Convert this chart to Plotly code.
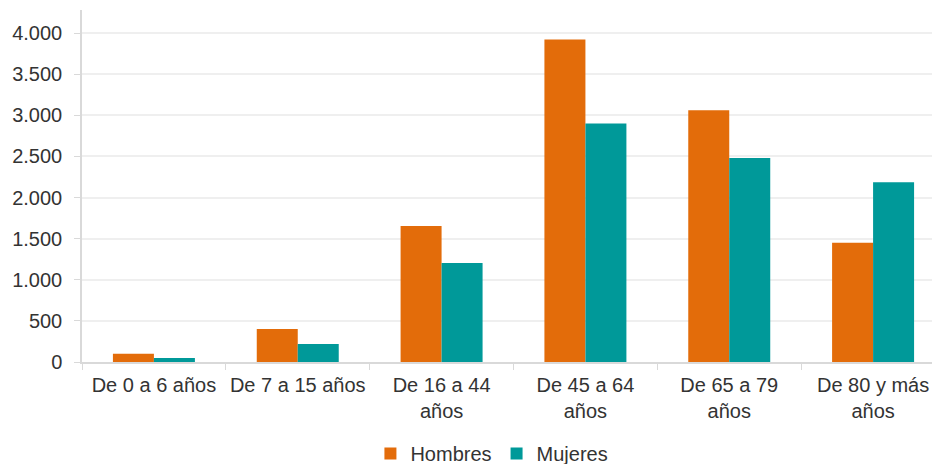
import plotly.graph_objects as go

categories = ["De 0 a 6 años", "De 7 a 15 años", "De 16 a 44<br>años",
              "De 45 a 64<br>años", "De 65 a 79<br>años", "De 80 y más<br>años"]
hombres = [100, 400, 1655, 3920, 3060, 1450]
mujeres = [50, 220, 1205, 2900, 2480, 2185]
y_ticks = [0, 500, 1000, 1500, 2000, 2500, 3000, 3500, 4000]

FONT = "Liberation Sans, Arial, sans-serif"
TXT = "#333333"
FS = 20

fig = go.Figure()
fig.add_trace(go.Bar(name="Hombres", x=categories, y=hombres,
                     marker=dict(color="#E36C0A", line=dict(width=0))))
fig.add_trace(go.Bar(name="Mujeres", x=categories, y=mujeres,
                     marker=dict(color="#009999", line=dict(width=0))))

fig.update_layout(
    width=940, height=464,
    margin=dict(l=74, r=3, t=2, b=110, autoexpand=False),
    paper_bgcolor="white", plot_bgcolor="white",
    barmode="group", bargap=0.43, bargroupgap=0,
    separators=",.",
    font=dict(family=FONT, size=FS, color=TXT),
    showlegend=True,
    legend=dict(orientation="h", x=0.475, xanchor="center",
                yref="container", y=0.04, yanchor="middle",
                font=dict(size=FS, color=TXT), itemwidth=30, tracegroupgap=0),
)
fig.update_xaxes(
    showline=True, linecolor="#d9d9d9", linewidth=1.5,
    ticks="outside", tickcolor="#d9d9d9", ticklen=6, tickson="boundaries",
    showgrid=False, tickfont=dict(size=FS, color=TXT), automargin=False,
    tickangle=0, ticklabelstandoff=4,
)
fig.update_yaxes(
    range=[0, 4280], tickvals=y_ticks, tickformat=",d",
    showline=True, linecolor="#d9d9d9", linewidth=1.5,
    ticks="outside", tickcolor="#d9d9d9", ticklen=6,
    showgrid=True, gridcolor="#efefef", gridwidth=1.5,
    zeroline=False, tickfont=dict(size=FS, color=TXT),
    ticklabelstandoff=8, automargin=False,
)
fig.write_html("out.html")
